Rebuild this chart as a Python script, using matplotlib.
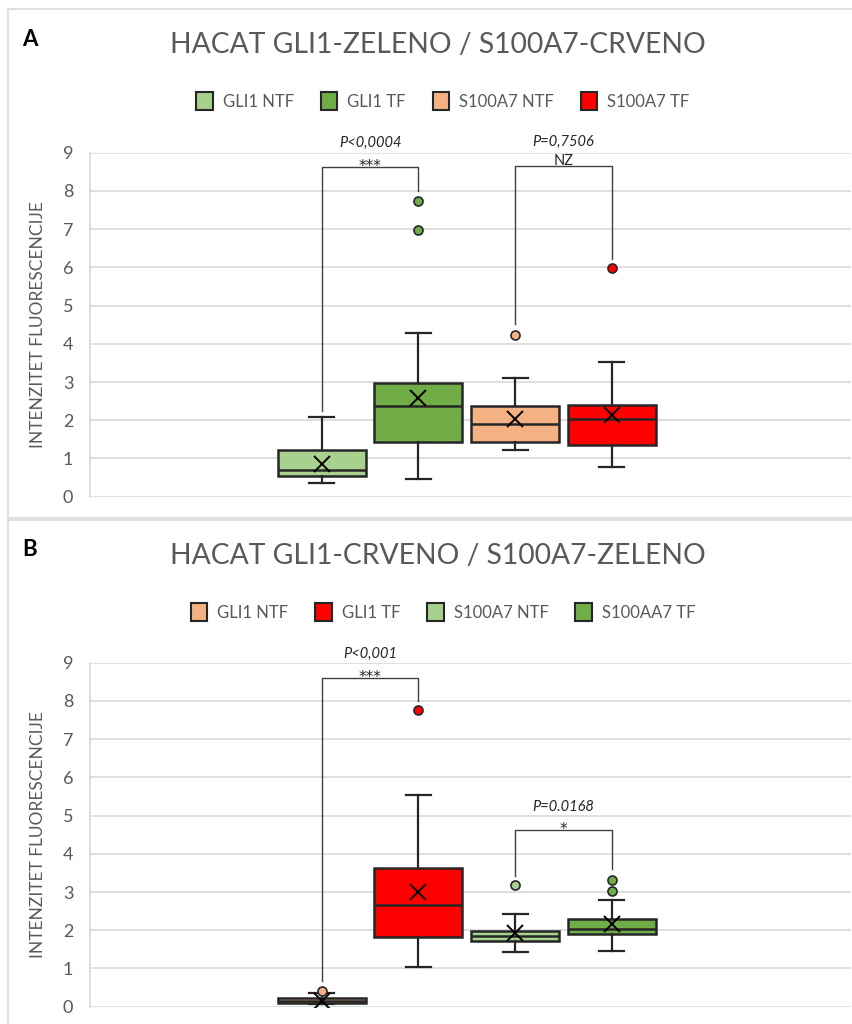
import matplotlib
matplotlib.use('Agg')
import matplotlib.pyplot as plt
from matplotlib.patches import Rectangle, Patch

plt.rcParams['font.family'] = ['Lato', 'DejaVu Sans']

# panel A : GLI1 green / S100A7 red
a_title = 'HACAT GLI1-ZELENO / S100A7-CRVENO'
a_labels = ['GLI1 NTF', 'GLI1 TF', 'S100A7 NTF', 'S100A7 TF']
a_q1 = [0.53, 1.43, 1.43, 1.36]
a_med = [0.70, 2.37, 1.89, 2.02]
a_q3 = [1.22, 2.98, 2.37, 2.41]
a_lo = [0.37, 0.46, 1.22, 0.77]
a_hi = [2.09, 4.27, 3.11, 3.52]
a_mean = [0.86, 2.59, 2.02, 2.13]
a_fliers = [[], [7.73, 6.97], [4.23], [5.98]]
a_colors = ['#a9d18e', '#70ad47', '#f4b183', '#ff0000']
# (box i, box j, top, left end, right end, p text, stars)
a_brackets = [(1, 2, 8.63, 2.24, 8.01, 'P<0,0004', '***'),
              (3, 4, 8.65, 4.51, 6.22, 'P=0,7506', 'NZ')]

# panel B : GLI1 red / S100A7 green
b_title = 'HACAT GLI1-CRVENO / S100A7-ZELENO'
b_labels = ['GLI1 NTF', 'GLI1 TF', 'S100A7 NTF', 'S100AA7 TF']
b_q1 = [0.10, 1.83, 1.71, 1.90]
b_med = [0.16, 2.66, 1.84, 2.03]
b_q3 = [0.22, 3.62, 1.99, 2.29]
b_lo = [0.08, 1.05, 1.44, 1.45]
b_hi = [0.35, 5.53, 2.42, 2.80]
b_mean = [0.15, 2.99, 1.93, 2.16]
b_fliers = [[0.40], [7.76], [3.18], [3.32, 3.02]]
b_colors = ['#f4b183', '#ff0000', '#a9d18e', '#70ad47']
b_brackets = [(1, 2, 8.60, 0.68, 8.00, 'P<0,001', '***'),
              (3, 4, 4.61, 3.42, 3.60, 'P=0.0168', '*')]

yticks = [0, 1, 2, 3, 4, 5, 6, 7, 8, 9]
ylabel = 'INTENZITET FLUORESCENCIJE'
grey = '#595959'
edge = '#262626'

fig = plt.figure(figsize=(8.53, 10.24), dpi=100)
W, H = 853.0, 1024.0


def panel(bottom_px, top_px, letter, title, labels, q1, med, q3, lo, hi, mean,
          fliers, colors, brackets, frame):
    # frame around the panel
    fig.add_artist(Rectangle((8 / W, 1 - frame[1] / H), 1.2, (frame[1] - frame[0]) / H,
                             transform=fig.transFigure, fill=False,
                             edgecolor='#d9d9d9', lw=1.2))
    ax = fig.add_axes([90 / W, 1 - bottom_px / H, (851 - 90) / W,
                       (bottom_px - top_px) / H])
    stats = []
    for i in range(4):
        stats.append(dict(q1=q1[i], med=med[i], q3=q3[i], whislo=lo[i],
                          whishi=hi[i], mean=mean[i], fliers=fliers[i],
                          label=labels[i]))
    bp = ax.bxp(stats, positions=[1, 2, 3, 4], widths=0.91, capwidths=0.26,
                patch_artist=True, showmeans=True,
                boxprops=dict(edgecolor=edge, linewidth=1.8),
                medianprops=dict(color=edge, linewidth=1.8),
                whiskerprops=dict(color=edge, linewidth=1.6),
                capprops=dict(color=edge, linewidth=1.6),
                meanprops=dict(marker='x', markersize=11, markeredgecolor='black',
                               markeredgewidth=1.4),
                flierprops=dict(marker='o', markersize=6.5,
                                markeredgecolor=edge, markeredgewidth=1.2))
    for i, b in enumerate(bp['boxes']):
        b.set_facecolor(colors[i])
        bp['fliers'][i].set_markerfacecolor(colors[i])

    for (i, j, top, le, re, ptxt, star) in brackets:
        ax.plot([i, i, j, j], [le, top, top, re], color='#404040', lw=1.0, zorder=1)
        ax.text((i + j) / 2, top + 0.62, ptxt, ha='center', va='center',
                fontsize=10.5, style='italic', color='#262626', clip_on=False)
        if star == 'NZ':
            ax.text((i + j) / 2, top + 0.12, star, ha='center', va='center',
                    fontsize=10.5, color='#262626', clip_on=False)
        else:
            ax.text((i + j) / 2, top + 0.02, star, ha='center', va='center',
                    fontsize=11, color='#262626', clip_on=False,
                    family=['DejaVu Sans'])

    ax.set_xlim(-1.396, 6.474)
    ax.set_ylim(0, 9)
    ax.set_yticks(yticks)
    ax.set_xticks([])
    ax.grid(axis='y', color='#d9d9d9', lw=1.2)
    ax.set_axisbelow(True)
    for s in ['top', 'right', 'bottom']:
        ax.spines[s].set_visible(False)
    ax.spines['left'].set_color('#d9d9d9')
    ax.spines['left'].set_linewidth(1.2)
    ax.tick_params(axis='y', length=0, labelsize=13, labelcolor=grey, pad=12)
    ax.set_ylabel(ylabel, fontsize=12.5, color=grey, labelpad=12)

    # title, letter and legend
    fig.text(438 / W, 1 - (frame[0] + 36) / H, title, ha='center', va='center',
             fontsize=20.3, color=grey)
    fig.text(30 / W, 1 - (frame[0] + 30) / H, letter, ha='center', va='center',
             fontsize=16, fontweight='bold', color='black')
    handles = [Patch(facecolor=colors[k], edgecolor=edge, lw=1.5) for k in range(4)]
    fig.legend(handles, labels, loc='center', ncol=4, frameon=False,
               bbox_to_anchor=(443 / W, 1 - (frame[0] + 92) / H), fontsize=12,
               labelcolor=grey, handlelength=1.0, handleheight=1.2,
               columnspacing=1.6, handletextpad=0.6)
    return ax


panel(496.7, 152.7, 'A', a_title, a_labels, a_q1, a_med, a_q3, a_lo, a_hi, a_mean,
      a_fliers, a_colors, a_brackets, (9, 518))
panel(1006.7, 662.7, 'B', b_title, b_labels, b_q1, b_med, b_q3, b_lo, b_hi, b_mean,
      b_fliers, b_colors, b_brackets, (520, 1100))

fig.savefig('out.png', dpi=100)
